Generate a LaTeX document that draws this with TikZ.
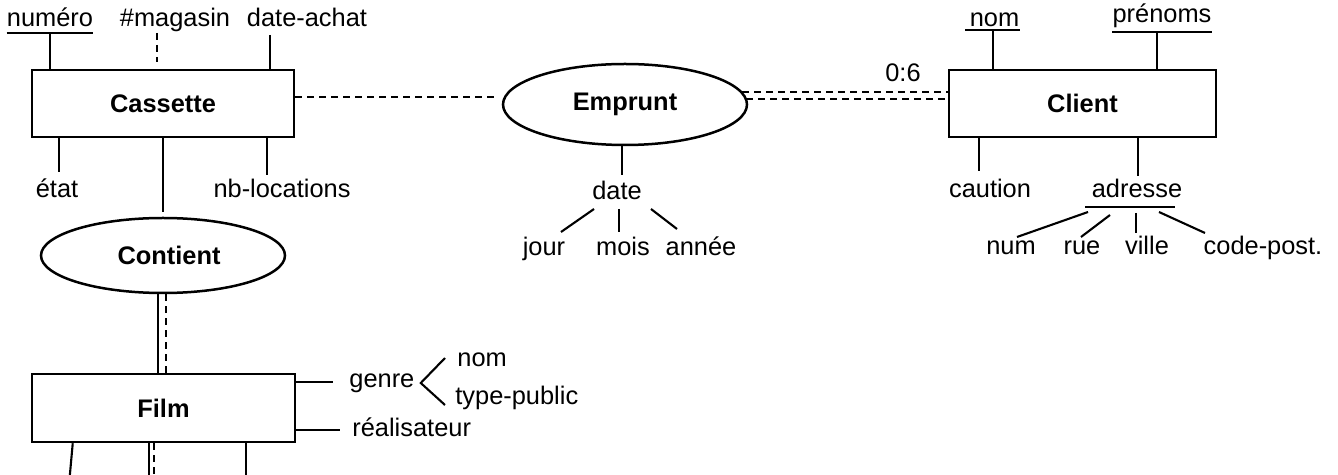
\documentclass[tikz,border=0pt]{standalone}
\usepackage{fontspec}
\setmainfont{Liberation Sans}
\usetikzlibrary{positioning,shapes.geometric,calc}
\newcommand{\erfont}{\fontsize{12.7}{15}\selectfont}

\begin{document}
\begin{tikzpicture}[x=0.5pt,y=-0.5pt,
		entity/.style={draw,line width=1.25pt,minimum height=33.5pt,inner sep=0pt,font=\erfont\bfseries},
		assoc/.style={ellipse,draw,line width=1.25pt,minimum width=122pt,inner sep=0pt,font=\erfont\bfseries},
		attr/.style={anchor=base,inner sep=0pt,font=\erfont},
		link/.style={line width=1.05pt},
		dlink/.style={line width=1.05pt,dash pattern=on 3.5pt off 2.5pt}]
		\useasboundingbox (0,0) rectangle (1338,475);
		% entities and associations
		\node[entity,minimum width=131pt] (cassette) at (163,103.5) {Cassette};
		\node[entity,minimum width=131.5pt,minimum height=34pt] (film) at (163.5,408) {Film};
		\node[entity,minimum width=133.5pt] (client) at (1082.5,103.5) {Client};
		\node[assoc,minimum height=37.5pt] (contient) at (163,255.5) {\hspace{6pt}Contient};
		\node[assoc,minimum height=40.5pt] (emprunt) at (625,104.5) {Emprunt};
		% attributes
		\node[attr] (numero) at (50,27) {numéro};
		\node[attr] (magasin) at (175,27) {\#magasin};
		\node[attr] (dateachat) at (307,27) {date-achat};
		\node[attr] (etat) at (57,198) {état};
		\node[attr] (nbloc) at (282,198) {nb-locations};
		\node[attr,anchor=base west] (genre) at (349,388) {genre};
		\node[attr,anchor=base west] (gnom) at (457,367) {nom};
		\node[attr,anchor=base west] (gtype) at (455,405) {type-public};
		\node[attr,anchor=base west] (real) at (352,437) {réalisateur};
		\node[attr] (date) at (617,200) {date};
		\node[attr] (jour) at (544,256) {jour};
		\node[attr] (mois) at (623,256) {mois};
		\node[attr] (annee) at (701,256) {année};
		\node[attr] (card) at (903,82) {0:6};
		\node[attr] (cnom) at (994.5,27) {nom};
		\node[attr] (prenoms) at (1162,23) {prénoms};
		\node[attr] (caution) at (990,198) {caution};
		\node[attr] (adresse) at (1137,198) {adresse};
		\node[attr] (num) at (1011,255) {num};
		\node[attr] (rue) at (1082,255) {rue};
		\node[attr] (ville) at (1147,255) {ville};
		\node[attr] (codepost) at (1263,255) {code-post.};
		% underlines
		\draw[link] ([yshift=-3pt]numero.base west) -- ([yshift=-3pt]numero.base east);
		\draw[link] ($(cnom.base west)+(-4,3)$) -- ($(cnom.base east)+(0,3)$);
		\draw[link] ([yshift=-4.5pt]prenoms.base west) -- ([yshift=-4.5pt]prenoms.base east);
		\draw[link] ($(adresse.base west)+(-6,9)$) -- ($(adresse.base east)+(-8,9)$);
		% Cassette
		\draw[link] ([yshift=-3pt]numero.base) -- (numero.base |- cassette.north);
		\draw[dlink] ($(magasin.base)+(-18,6)$) -- ($(magasin.base |- cassette.north)+(-18,-7)$);
		\draw[link] ($(dateachat.base)+(-37,8)$) -- ($(dateachat.base |- cassette.north)+(-37,0)$);
		\draw[link] ($(etat.base)+(2,-26)$) -- ($(etat.base |- cassette.south)+(2,0)$);
		\draw[link] ($(nbloc.base)+(-15,-23)$) -- ($(nbloc.base |- cassette.south)+(-15,0)$);
		\draw[link,shorten >=2.5pt] (cassette) -- (contient);
		\draw[dlink] ($(cassette.east)+(0,-6.5)$) -- ($(emprunt.west)+(-4,-7.5)$);
		% Contient - Film
		\draw[link] ($(contient.south)+(-5,0)$) -- ($(film.north)+(-5.5,0)$);
		\draw[dlink] ($(contient.south)+(3,0)$) -- ($(film.north)+(2.5,0)$);
		% Film
		\draw[link] ($(film.east |- genre.base)+(0,-6)$) -- ($(genre.base west)+(-16,-6)$);
		\draw[link] ($(gnom.base west)+(-12,-9)$) -- ($(genre.base east)+(6,-5)$) -- ($(gtype.base west)+(-10,0)$);
		\draw[link] ($(film.east |- real.base)+(0,-7)$) -- ($(real.base west)+(-12,-7)$);
		\draw[link] (film.south west) ++(42,0) -- ++(-3,33);
		\draw[link] (film.south west) ++(118,0) -- ++(0,33);
		\draw[dlink] (film.south west) ++(123,0) -- ++(0,33);
		\draw[link] (film.south west) ++(215,0) -- ++(0,33);
		% Emprunt
		\draw[dlink] ($(emprunt.east)+(-6,-12.5)$) -- ($(client.west)+(0,-11.5)$);
		\draw[dlink] ($(emprunt.east)+(-2,-5.5)$) -- ($(client.west)+(0,-4.5)$);
		\draw[link] ($(emprunt.south)+(-3,0)$) -- ($(date.base)+(5,-25)$);
		\draw[link] ($(date.base)+(-23,9)$) -- ($(jour.base)+(17,-24)$);
		\draw[link] ($(date.base)+(2,9)$) -- ($(mois.base)+(-4,-24)$);
		\draw[link] ($(date.base)+(34,9)$) -- ($(annee.base)+(-24,-27)$);
		% Client
		\draw[link] ($(cnom.base)+(-1.5,3)$) -- ($(cnom.base |- client.north)+(-1.5,0)$);
		\draw[link] ($(prenoms.base)+(-5,9)$) -- ($(prenoms.base |- client.north)+(-5,0)$);
		\draw[link] ($(caution.base)+(-11,-27)$) -- ($(caution.base |- client.south)+(-11,0)$);
		\draw[link] ($(adresse.base)+(1,-22)$) -- ($(adresse.base |- client.south)+(1,0)$);
		\draw[link] ($(adresse.base)+(-49,14)$) -- ($(num.base)+(6,-18)$);
		\draw[link] ($(adresse.base)+(-27,17)$) -- ($(rue.base)+(-1,-18)$);
		\draw[link] ($(adresse.base)+(-1,15)$) -- ($(ville.base)+(-11,-22)$);
		\draw[link] ($(adresse.base)+(22,14)$) -- ($(codepost.base)+(-58,-22)$);
\end{tikzpicture}
\end{document}
